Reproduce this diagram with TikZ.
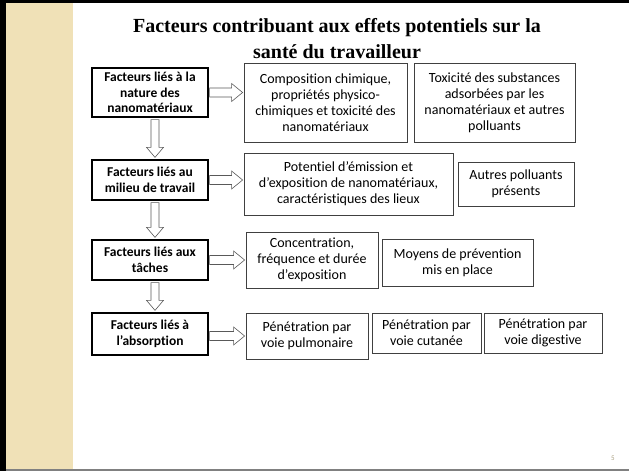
\documentclass[tikz,border=0pt]{standalone}
\usepackage{fontspec}
\setmainfont{Carlito}[Ligatures=NoCommon]
\newfontfamily\titrefont{Liberation Serif}
\usetikzlibrary{calc}

\definecolor{beige}{RGB}{240,225,183}

\tikzset{
  facteur/.style={draw=black, line width=1.3pt, align=center, inner sep=0pt,
    font=\bfseries\fontsize{13.5}{15.5}\selectfont},
  effet/.style={draw=black!75, line width=0.8pt, align=center, inner sep=0pt,
    font=\fontsize{14}{16}\selectfont},
  % fleches creuses
  hbloc/.style={draw=black!65, line width=0.6pt, fill=white,
    to path={let \p1=(\tikztostart), \p2=(\tikztotarget) in
      (\x1+1pt,\y1+4.5pt) -- (\x2-12pt,\y1+4.5pt) -- (\x2-12pt,\y1+9pt)
      -- (\x2-1pt,\y1) -- (\x2-12pt,\y1-9pt) -- (\x2-12pt,\y1-4.5pt)
      -- (\x1+1pt,\y1-4.5pt) -- cycle}},
  vbloc/.style={draw=black!65, line width=0.6pt, fill=white,
    to path={let \p1=(\tikztostart), \p2=(\tikztotarget) in
      (\x1-4pt,\y1-2pt) -- (\x1-4pt,\y2+12pt) -- (\x1-8.5pt,\y2+12pt)
      -- (\x1,\y2+2pt) -- (\x1+8.5pt,\y2+12pt) -- (\x1+4pt,\y2+12pt)
      -- (\x1+4pt,\y1-2pt) -- cycle}}
}

\begin{document}
\begin{tikzpicture}[x=1pt, y=-1pt]
  \useasboundingbox (0,0) rectangle (629,471);

  % cadre de la diapositive
  \fill[beige] (6,0) rectangle (73,471);
  \fill[black] (0,0) rectangle (6,471);
  \fill[black] (0,0) rectangle (629,3);
  \fill[black!50] (6,469) rectangle (629,471);
  \node[text=beige!70!black, font=\fontsize{7}{8}\selectfont] (num) at (613,458) {5};

  % titre
  \node[align=center, font=\titrefont\bfseries\fontsize{20}{26}\selectfont] (titre) at (337,39)
    {Facteurs contribuant aux effets potentiels sur la\\santé du travailleur};

  % facteurs (colonne de gauche)
  \node[facteur, minimum width=116, minimum height=49] (nature) at (150,92.5)
    {Facteurs liés à la\\nature des\\nanomatériaux};
  \node[facteur, minimum width=116, minimum height=40] (milieu) at (150,180)
    {Facteurs liés au\\milieu de travail};
  \node[facteur, minimum width=116, minimum height=40] (taches) at (150,260)
    {Facteurs liés aux\\tâches};
  \node[facteur, minimum width=116, minimum height=42] (absorption) at (150,334)
    {Facteurs liés à\\l’absorption};

  % effets
  \node[effet, minimum width=163, minimum height=79] (compo) at (325.5,102.5)
    {Composition chimique,\\propriétés physico-\\chimiques et toxicité des\\nanomatériaux};
  \node[effet, minimum width=161, minimum height=79] (toxi) at (494.5,102.5)
    {Toxicité des substances\\adsorbées par les\\nanomatériaux et autres\\polluants};
  \node[effet, minimum width=209, minimum height=62] (emission) at (348.5,184)
    {Potentiel d’émission et\\d’exposition de nanomatériaux,\\caractéristiques des lieux};
  \node[effet, minimum width=116, minimum height=44] (autres) at (516,184)
    {Autres polluants\\présents};
  \node[effet, minimum width=132, minimum height=56] (concentration) at (312,260)
    {Concentration,\\fréquence et durée\\d’exposition};
  \node[effet, minimum width=151, minimum height=47] (moyens) at (457.5,262.5)
    {Moyens de prévention\\mis en place};
  \node[effet, minimum width=122, minimum height=46] (pulmo) at (307,336)
    {Pénétration par\\voie pulmonaire};
  \node[effet, minimum width=109, minimum height=40] (cutanee) at (426.5,333)
    {Pénétration par\\voie cutanée};
  \node[effet, minimum width=118, minimum height=40] (digestive) at (543,333)
    {Pénétration par\\voie digestive};

  % fleches horizontales
  \draw[hbloc] (nature.east) to (nature.east -| compo.west);
  \draw[hbloc] (milieu.east) to (milieu.east -| emission.west);
  \draw[hbloc] (taches.east) to (taches.east -| concentration.west);
  \draw[hbloc] ([yshift=-2]absorption.east) to ([yshift=-2]absorption.east -| pulmo.west);

  % fleches verticales
  \draw[vbloc] ([xshift=5]nature.south) to ([xshift=5]milieu.north);
  \draw[vbloc] ([xshift=5]milieu.south) to ([xshift=5]taches.north);
  \draw[vbloc] ([xshift=5]taches.south) to ([xshift=5]absorption.north);
\end{tikzpicture}
\end{document}
